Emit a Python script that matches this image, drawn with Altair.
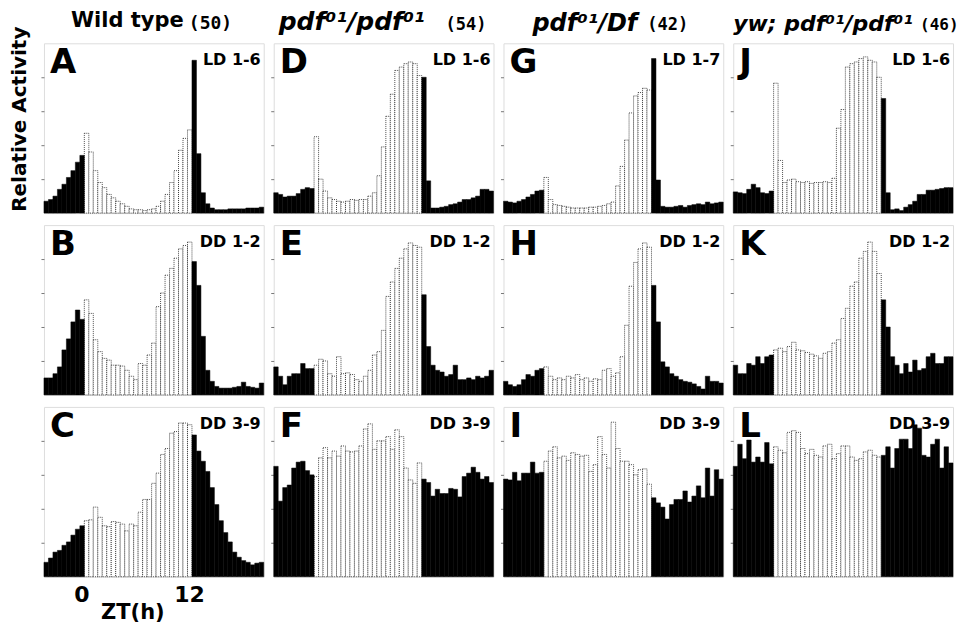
import altair as alt
import pandas as pd

# 30-min activity bins, ZT -4.5 .. 20 (9 dark bins, 24 light bins, 16 dark bins)
ZT_START = -4.5
BIN = 0.5

# ---- Row 1: LD ----
A_left = [7, 8, 10, 14, 17, 21, 25, 30, 34]
A_light = [47, 36, 25, 18, 15, 11, 9, 7, 5.5, 4, 2.5, 2, 2, 1.5, 2, 2.5, 4, 7, 11, 18, 25, 37, 44, 49]
A_right = [90, 35, 12, 5.5, 3, 2, 2, 2, 2.5, 2.5, 2.5, 2.5, 3, 3, 3, 3.5]

D_left = [12, 11, 9.5, 10, 10, 11.5, 14, 15, 14.5]
D_light = [45, 20, 13, 9, 8, 7, 6.5, 7, 8, 7.5, 8, 8, 10, 12, 22, 39, 57, 70, 84, 86, 88, 89, 88, 81]
D_right = [80, 19, 3, 3, 3.5, 4, 5, 5.5, 6.5, 8, 8, 9, 10, 14, 14, 13]

G_left = [7, 6.5, 6, 7, 8, 9.5, 11, 13, 13.5]
G_light = [21, 8, 5, 4.5, 4, 3.5, 3, 3, 3, 3, 3.5, 3.5, 4, 4.5, 5.5, 6.5, 16, 27.5, 43, 59, 69, 71, 73.5, 72.5]
G_right = [91, 19.5, 4, 3.5, 3.5, 4, 4.5, 3.5, 4.5, 5, 5.5, 5, 6.5, 5.5, 6, 6.5]

J_left = [12.5, 12, 11.5, 14, 17, 15, 12, 11.5, 13]
J_light = [76.5, 31, 18, 19.5, 20, 18.5, 18, 18.5, 17.5, 18, 18, 18.5, 18, 20.5, 50, 61, 86, 88, 89, 91, 92, 90, 89, 80]
J_right = [67.5, 12, 2, 2.5, 1.5, 3.5, 5, 7, 11, 11, 13.5, 13.5, 14, 14.5, 15, 15]

# ---- Row 2: DD 1-2 ----
B_left = [10, 10, 12.5, 16.5, 26.5, 33, 43, 50, 44.5]
B_light = [56, 48, 32.5, 25.5, 21.5, 20.5, 17.5, 17.5, 17, 14.5, 11, 9, 18.5, 17.5, 23.5, 30.5, 52, 60, 70.5, 74.5, 80.5, 86, 88, 90]
B_right = [78.5, 64.5, 34.5, 14.5, 8, 5, 4, 4, 4, 4.5, 5, 7.5, 5, 4.5, 4, 7]

E_left = [16.5, 11, 6, 11, 12.5, 12.5, 18.5, 15.5, 15.5]
E_light = [17.5, 21, 20, 12.5, 11, 22.5, 12.5, 13, 12, 9, 8, 11, 14.5, 23.5, 25.5, 38, 58, 66.5, 74.5, 80.5, 86, 89.5, 88, 87]
E_right = [59, 28.5, 17.5, 14.5, 13.5, 11, 12, 17.5, 9, 9, 10, 9, 11, 10, 11, 14.5]

H_left = [8, 6, 5, 6, 9, 12, 11, 14.5, 15.5]
H_light = [16.5, 11, 9, 10, 9, 11, 10, 12, 9, 10, 8, 9.5, 9, 14.5, 15.5, 11, 13, 22.5, 41, 64, 78, 86, 89.5, 87]
H_right = [64.5, 43, 19.5, 16.5, 12.5, 11, 9, 8, 7.5, 6.5, 5, 3.5, 11, 8, 8, 7]

K_left = [17.5, 12.5, 12.5, 18.5, 17.5, 22.5, 18.5, 22.5, 23.5]
K_light = [26.5, 27.5, 25.5, 28.5, 31, 26.5, 26, 25, 24, 23, 21.5, 24.5, 25.5, 30.5, 32.5, 45, 51, 64, 66.5, 80.5, 84.5, 90, 84.5, 71.5]
K_right = [56, 40, 22.5, 17.5, 12.5, 18.5, 13.5, 20.5, 14.5, 15.5, 22.5, 24.5, 18.5, 18.5, 22.5, 22.5]

# ---- Row 3: DD 3-9 ----
C_left = [8.5, 11, 14.5, 15.5, 18.5, 20.5, 24.5, 28, 30]
C_light = [33, 33.5, 41, 35, 30, 29.5, 32.5, 32, 31, 27, 31, 30, 38, 45.5, 45.5, 55, 61, 72, 75.5, 84.5, 85.5, 90.5, 90.5, 89.5]
C_right = [83.5, 74, 68, 62, 52.5, 42.5, 33, 26, 20.5, 14.5, 11.5, 9.5, 8.5, 7, 8, 8.5]

F_left = [65, 44.5, 52.5, 54, 64, 67.5, 68, 62.5, 60]
F_light = [59, 70, 76, 70, 74, 71, 77, 74, 73.5, 74, 77, 87, 90, 75, 80, 80, 82.5, 75, 86.5, 82.5, 64, 57, 55, 67]
F_right = [57.5, 55.5, 47.5, 51.5, 49, 49, 52, 51.5, 47, 59, 61, 64.5, 61.5, 57.5, 59, 55.5]

I_left = [57.5, 57, 61.5, 56.5, 61, 61, 67.5, 61, 61.5]
I_light = [68, 74, 76.5, 70, 71, 68.5, 73, 72, 71, 71.5, 62, 66, 82.5, 72, 64, 91, 75.5, 68, 68, 66, 60, 63, 63.5, 54.5]
I_right = [46.5, 43.5, 41, 34, 42.5, 45.5, 45.5, 50.5, 44, 47.5, 53.5, 46.5, 64, 47.5, 63, 57.5]

L_left = [65, 78, 69.5, 80.5, 67.5, 70.5, 67.5, 79, 66.5]
L_light = [76.5, 74.5, 73, 85, 86, 85, 75.5, 72.5, 75, 71.5, 70.5, 77, 78, 69.5, 72.5, 77, 77, 70.5, 68.5, 69.5, 73.5, 74.5, 71.5, 70.5]
L_right = [71.5, 76.5, 64, 75.5, 81, 81, 75.5, 89.5, 87.5, 71.5, 70.5, 78, 81, 64, 76.5, 67]

# Column headers: (text, font, size, style, x offset, baseline offset)
col_titles = {
    "A": [("Wild type", "DejaVu Sans", 21, "normal", 27, -16),
          ("(50)", "DejaVu Sans Mono", 18, "normal", 145, -14)],
    "D": [("pdf\u2070\u00b9/pdf\u2070\u00b9", "DejaVu Sans", 25, "italic", 5, -13),
          ("(54)", "DejaVu Sans Mono", 17, "normal", 172, -13)],
    "G": [("pdf\u2070\u00b9/Df", "DejaVu Sans", 24, "italic", 29, -12),
          ("(42)", "DejaVu Sans Mono", 17, "normal", 144, -13)],
    "J": [("yw; pdf\u2070\u00b9/pdf\u2070\u00b9", "DejaVu Sans", 22, "italic", 0, -12),
          ("(46)", "DejaVu Sans Mono", 16, "normal", 187, -13)],
}

panels = [
    ("A", "LD 1-6", A_left, A_light, A_right),
    ("D", "LD 1-6", D_left, D_light, D_right),
    ("G", "LD 1-7", G_left, G_light, G_right),
    ("J", "LD 1-6", J_left, J_light, J_right),
    ("B", "DD 1-2", B_left, B_light, B_right),
    ("E", "DD 1-2", E_left, E_light, E_right),
    ("H", "DD 1-2", H_left, H_light, H_right),
    ("K", "DD 1-2", K_left, K_light, K_right),
    ("C", "DD 3-9", C_left, C_light, C_right),
    ("F", "DD 3-9", F_left, F_light, F_right),
    ("I", "DD 3-9", I_left, I_light, I_right),
    ("L", "DD 3-9", L_left, L_light, L_right),
]

W, H = 220, 170
xscale = alt.Scale(domain=[-4.5, 20], nice=False, zero=False)
yscale = alt.Scale(domain=[0, 100], nice=False)
yaxis = alt.Axis(values=[20, 40, 60, 80], labels=False, domain=False, ticks=True,
                 tickSize=3, tickColor="#777", grid=False, title=None)


def make_panel(letter, cond, left, light, right):
    vals = left + light + right
    starts = [ZT_START + BIN * i for i in range(len(vals))]
    phase = ["dark"] * len(left) + ["light"] * len(light) + ["dark"] * len(right)
    df = pd.DataFrame({"zt": starts, "zt_end": [s + BIN for s in starts],
                       "activity": vals, "phase": phase})
    if letter == "C":
        xaxis = alt.Axis(values=[0, 12], labelFontSize=22, labelFontWeight="bold",
                         labelFont="DejaVu Sans", labelColor="black", ticks=False,
                         domain=False, grid=False, labelPadding=8, labelOffset=-3,
                         title=None)
    else:
        xaxis = None
    base = alt.Chart(df)
    enc = dict(x=alt.X("zt:Q", scale=xscale, axis=xaxis), x2="zt_end:Q",
               y=alt.Y("activity:Q", scale=yscale, axis=yaxis), y2=alt.datum(0))
    dark = base.transform_filter(alt.datum.phase == "dark").mark_bar(
        color="black", stroke="black", strokeWidth=0.5).encode(**enc)
    lightl = base.transform_filter(alt.datum.phase == "light").mark_bar(
        fill="white", stroke="#222", strokeWidth=0.8, strokeDash=[1, 1]).encode(**enc)
    lab = alt.Chart(pd.DataFrame({"t": [letter]})).mark_text(
        align="left", baseline="alphabetic", fontSize=34, fontWeight="bold",
        font="DejaVu Sans", color="black").encode(text="t:N", x=alt.value(6), y=alt.value(30))
    cnd = alt.Chart(pd.DataFrame({"t": [cond]})).mark_text(
        align="right", baseline="alphabetic", fontSize=16, fontWeight="bold",
        font="DejaVu Sans", color="black").encode(text="t:N", x=alt.value(W - 3), y=alt.value(22))
    layers = [lightl, dark, lab, cnd]
    if letter in col_titles:
        for txt, font, size, style, xo, yo in col_titles[letter]:
            layers.append(alt.Chart(pd.DataFrame({"t": [txt]})).mark_text(
                align="left", baseline="alphabetic", fontSize=size, fontWeight="bold",
                fontStyle=style, font=font, color="black").encode(
                text="t:N", x=alt.value(xo), y=alt.value(yo)))
    if letter == "A":
        layers.append(alt.Chart(pd.DataFrame({"t": ["Relative Activity"]})).mark_text(
            align="center", baseline="middle", angle=270, fontSize=20, fontWeight="bold",
            font="DejaVu Sans", color="black").encode(text="t:N", x=alt.value(-24), y=alt.value(76)))
    if letter == "C":
        layers.append(alt.Chart(pd.DataFrame({"t": ["ZT(h)"]})).mark_text(
            align="center", baseline="alphabetic", fontSize=21, fontWeight="bold",
            font="DejaVu Sans", color="black").encode(text="t:N", x=alt.value(89), y=alt.value(H + 42)))
    return alt.layer(*layers).properties(width=W, height=H)


charts = [make_panel(*p) for p in panels]

chart = alt.concat(*charts, columns=4, spacing=alt.RowColnumber(row=12, column=10),
                   bounds="flush",
                   padding={"top": 1, "left": 1, "right": 0, "bottom": 0}).configure_view(
    stroke="#333", strokeWidth=1, strokeDash=[1, 1.5]
).configure(background="white")

chart.save("out.html", embed_options={"renderer": "svg", "actions": False})
